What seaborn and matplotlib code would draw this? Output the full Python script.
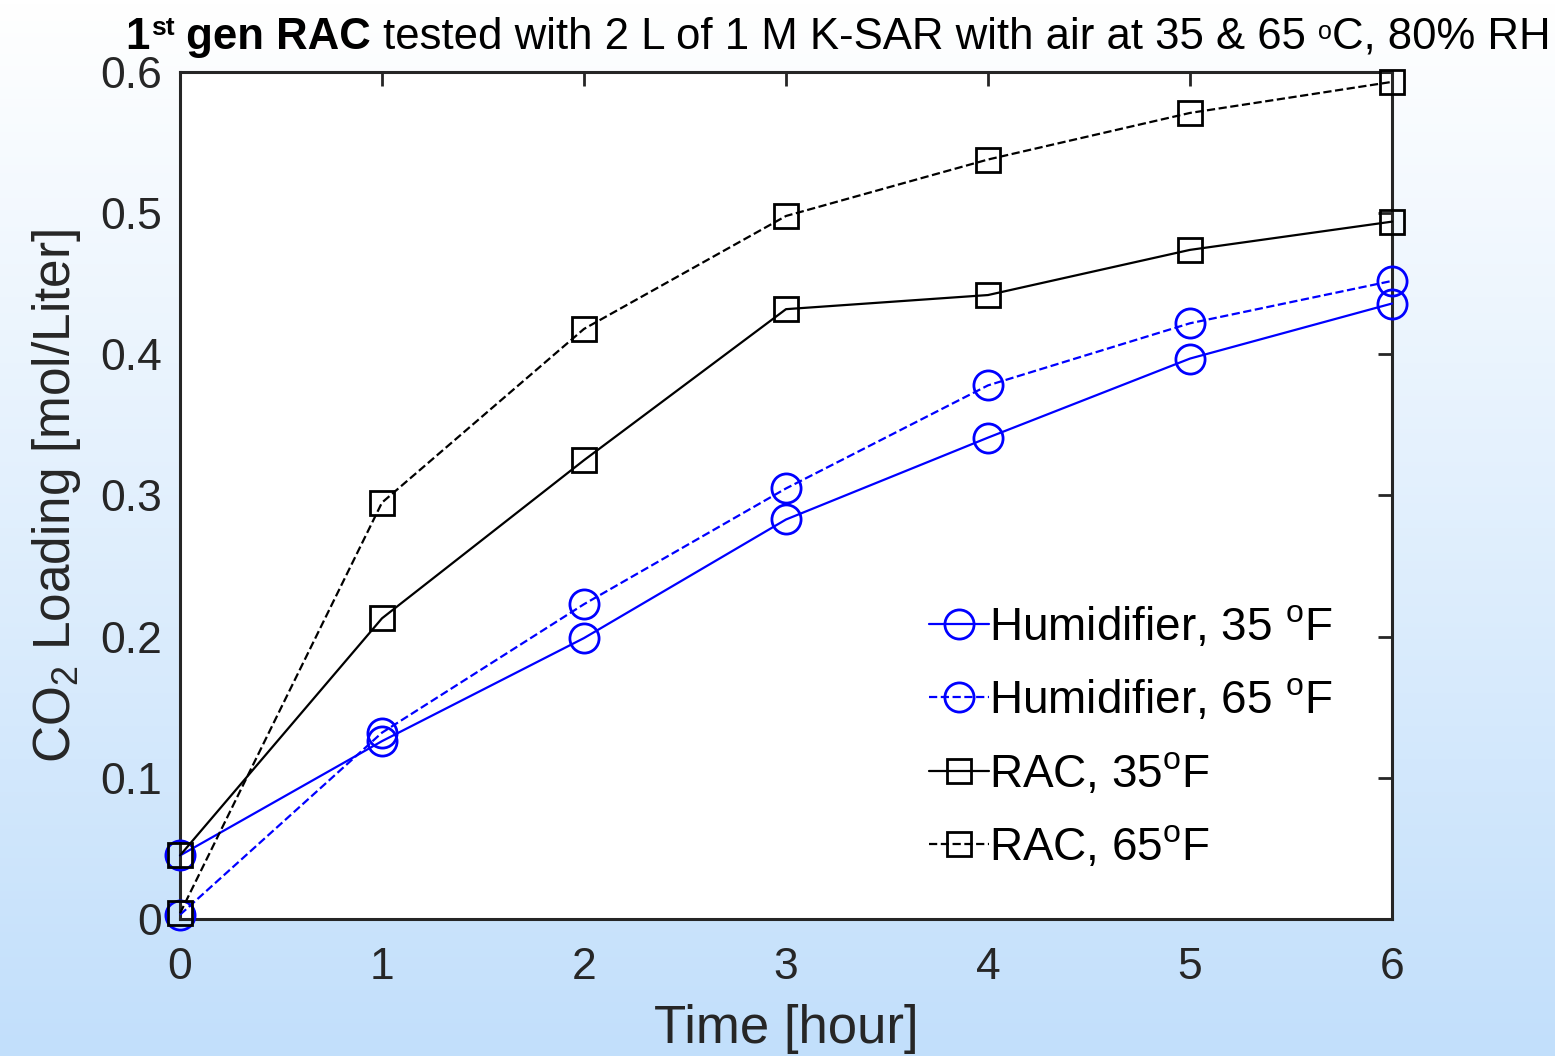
import numpy as np
import pandas as pd
import matplotlib
matplotlib.use("Agg")
import matplotlib.pyplot as plt
import seaborn as sns

time_h = [0, 1, 2, 3, 4, 5, 6]
hum_35 = [0.045, 0.126, 0.199, 0.283, 0.341, 0.397, 0.436]
hum_65 = [0.003, 0.132, 0.223, 0.305, 0.378, 0.422, 0.452]
rac_35 = [0.045, 0.213, 0.325, 0.432, 0.442, 0.474, 0.494]
rac_65 = [0.004, 0.295, 0.418, 0.498, 0.538, 0.571, 0.593]
labels = ["Humidifier, 35 $^{\\mathrm{o}}$F", "Humidifier, 65 $^{\\mathrm{o}}$F",
          "RAC, 35$^{\\mathrm{o}}$F", "RAC, 65$^{\\mathrm{o}}$F"]
yticks = [0, 0.1, 0.2, 0.3, 0.4, 0.5, 0.6]
ytick_labels = ["0", "0.1", "0.2", "0.3", "0.4", "0.5", "0.6"]

sns.set_theme(style="white")
plt.rcParams['font.family'] = ['Liberation Sans', 'DejaVu Sans']
plt.rcParams['mathtext.fontset'] = 'custom'
plt.rcParams['mathtext.rm'] = 'Liberation Sans'
plt.rcParams['mathtext.it'] = 'Liberation Sans:italic'
plt.rcParams['mathtext.bf'] = 'Liberation Sans:bold'

fig = plt.figure(figsize=(15.55, 10.56), dpi=100)
# background gradient
bg = fig.add_axes([0, 0, 1, 1], zorder=-10)
grad = np.linspace(0, 1, 256).reshape(-1, 1)
top = np.array([1.0, 1.0, 1.0])
bot = np.array([194, 223, 251]) / 255.0
img = top[None, None, :] * (1 - grad[:, :, None]) + bot[None, None, :] * grad[:, :, None]
bg.imshow(img, aspect='auto', extent=[0, 1, 0, 1])
bg.axis('off')

ax = fig.add_axes([180/1555, 1 - 919/1056, (1392-180)/1555, (919-72)/1056])
ax.set_facecolor('white')

df = pd.DataFrame({"t": time_h * 4,
                   "v": hum_35 + hum_65 + rac_35 + rac_65,
                   "s": sum([[l] * len(time_h) for l in labels], [])})

styles = [
    dict(color="#0000ff", ls="-", marker="o", ms=21),
    dict(color="#0000ff", ls="--", marker="o", ms=21),
    dict(color="black", ls="-", marker="s", ms=17),
    dict(color="black", ls="--", marker="s", ms=17),
]
for lab, st in zip(labels, styles):
    sub = df[df.s == lab]
    sns.lineplot(data=sub, x="t", y="v", ax=ax, color=st["color"], linestyle=st["ls"],
                 marker=st["marker"], markersize=st["ms"], markerfacecolor="none",
                 markeredgecolor=st["color"], markeredgewidth=2.0, linewidth=1.6,
                 label=lab, clip_on=False, zorder=3)

ax.set_xlim(0, 6)
ax.set_ylim(0, 0.6)
ax.set_xticks(time_h)
ax.set_yticks(yticks)
ax.set_yticklabels(ytick_labels)
ax.tick_params(direction='in', length=10, width=2, colors='#262626', labelsize=32,
               top=True, right=True)
ax.tick_params(axis='x', pad=20)
ax.tick_params(axis='y', pad=13)
for sp in ax.spines.values():
    sp.set_color('#262626')
    sp.set_linewidth(2.2)
ax.set_xlabel("Time [hour]", fontsize=38, color='#262626', labelpad=12)
ax.set_ylabel("CO$_2$ Loading [mol/Liter]", fontsize=37, color='#262626', labelpad=12)

leg = ax.legend(loc='lower right', bbox_to_anchor=(0.977, 0.02), frameon=False, fontsize=33,
                handlelength=1.3, handletextpad=0.0, labelspacing=0.62, borderaxespad=0.3)
for t in leg.get_texts():
    t.set_color('black')

# title built from pieces
fam = ['Liberation Sans', 'DejaVu Sans']
fs = 31.5
t1 = fig.text(125/1555, 1 - 49/1056, "1", fontsize=fs, fontweight='bold', family=fam,
              va='baseline', color='black')
t2 = ax.annotate("st", xy=(1, 0), xycoords=t1, xytext=(1, 13), textcoords='offset points',
                 fontsize=19, fontweight='bold', family=fam, va='bottom', color='black',
                 annotation_clip=False)
t3 = ax.annotate(" gen RAC", xy=(1, 0), xycoords=t2, xytext=(0, -13), textcoords='offset points',
                 fontsize=fs, fontweight='bold', family=fam, va='bottom', color='black',
                 annotation_clip=False)
t4 = ax.annotate(" tested with 2 L of 1 M K-SAR with air at 35 & 65 ", xy=(1, 0), xycoords=t3,
                 fontsize=fs, family=fam, va='bottom', color='black', annotation_clip=False)
t5 = ax.annotate("o", xy=(1, 0), xycoords=t4, xytext=(0, 10), textcoords='offset points',
                 fontsize=18, family=fam, va='bottom', color='black', annotation_clip=False)
t6 = ax.annotate("C, 80% RH", xy=(1, 0), xycoords=t5, xytext=(0, -10), textcoords='offset points',
                 fontsize=fs, family=fam, va='bottom', color='black', annotation_clip=False)

fig.savefig("out.png", dpi=100)
